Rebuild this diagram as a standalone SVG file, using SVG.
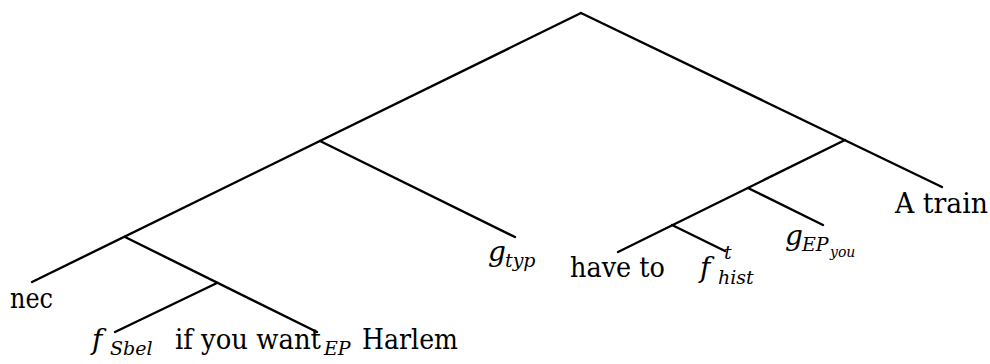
<svg xmlns="http://www.w3.org/2000/svg" width="990" height="364" viewBox="0 0 990 364">
<style>
.e{stroke:#000;stroke-width:2.4;stroke-linecap:round;fill:none}
.t{font-family:'DejaVu Serif',serif;fill:#000}
.r{font-size:27px;font-style:normal}
.m{font-size:28px;font-style:italic}
.s{font-size:19px;font-style:italic}
.ss{font-size:14px;font-style:italic}
</style>
<rect width="990" height="364" fill="#fff"/>
<g id="connectors">
<line class="e" x1="581" y1="13" x2="32" y2="282"/>
<line class="e" x1="581" y1="13" x2="942" y2="187"/>
<line class="e" x1="125" y1="237" x2="317" y2="332"/>
<line class="e" x1="217" y1="283" x2="115" y2="332"/>
<line class="e" x1="320" y1="141" x2="515" y2="237"/>
<line class="e" x1="845" y1="140" x2="618" y2="252"/>
<line class="e" x1="748" y1="188" x2="823" y2="225"/>
<line class="e" x1="672" y1="225" x2="725" y2="251"/>
</g>
<g class="t">
<g id="nec"><text class="r" x="10" y="308" textLength="43" lengthAdjust="spacingAndGlyphs">nec</text></g>
<g id="fSbel"><text><tspan class="m" x="92" y="349">f</tspan><tspan class="s" x="110" y="355">Sbel</tspan></text></g>
<g id="ifyouwant"><text><tspan class="r" x="175" y="349" textLength="146" lengthAdjust="spacingAndGlyphs">if you want</tspan><tspan class="s" x="324" y="355">EP</tspan><tspan class="r" x="362" y="349" textLength="96" lengthAdjust="spacingAndGlyphs">Harlem</tspan></text></g>
<g id="gtyp"><text><tspan class="m" x="488" y="261">g</tspan><tspan class="s" x="505" y="267">typ</tspan></text></g>
<g id="haveto"><text class="r" x="570" y="277" textLength="95" lengthAdjust="spacingAndGlyphs">have to</text></g>
<g id="fhist"><text><tspan class="m" x="700" y="277">f</tspan><tspan class="s" x="724" y="259">t</tspan><tspan class="s" x="718" y="284">hist</tspan></text></g>
<g id="gEPyou"><text><tspan class="m" x="785" y="245">g</tspan><tspan class="s" x="802" y="251">EP</tspan><tspan class="ss" x="830" y="257">you</tspan></text></g>
<g id="atrain"><text class="r" x="895" y="213" textLength="93" lengthAdjust="spacingAndGlyphs">A train</text></g>
</g>
</svg>
